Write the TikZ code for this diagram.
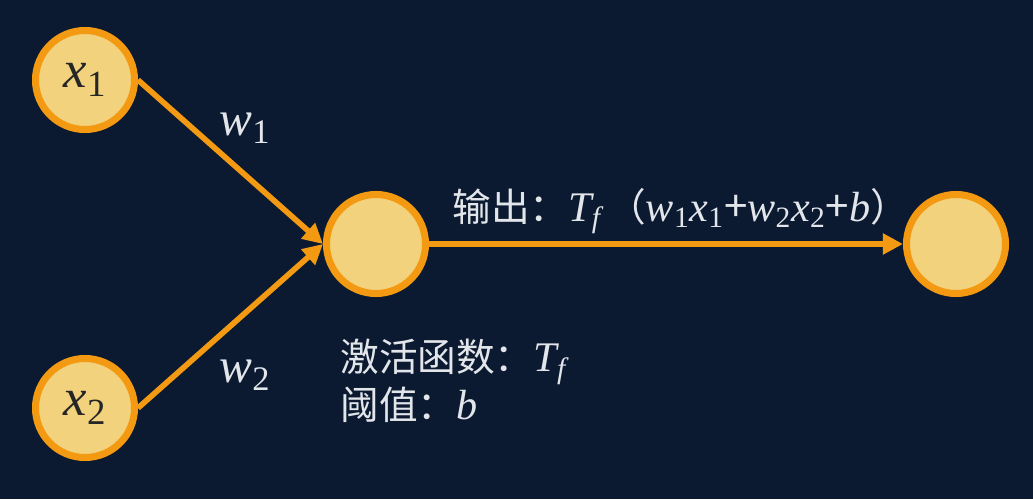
\documentclass[tikz,border=0pt]{standalone}
\usepackage{fontspec}
\usetikzlibrary{arrows.meta}
\newfontfamily\cjk{Noto Sans CJK SC}
\newfontfamily\tms{Liberation Serif}
\definecolor{bgnavy}{HTML}{0B1A30}
\definecolor{cellfill}{HTML}{F2D27C}
\definecolor{cellrim}{HTML}{F39A12}
\definecolor{labelgray}{HTML}{E2E5EA}
\newcommand{\mv}[1]{{\tms\itshape #1}}
\newcommand{\sbs}[1]{\textsubscript{\tms #1}}
\newcommand{\mathsz}[1]{{\fontsize{24}{24}\selectfont #1}}

\begin{document}
\begin{tikzpicture}[
    neuron/.style={circle, fill=cellfill, draw=cellrim, line width=4pt, minimum size=1.98cm, inner sep=0pt, text=black!85},
    link/.style={cellrim, line width=3.2pt, -{Triangle[length=0.4cm, width=0.4cm]}},
    lbl/.style={text=labelgray, inner sep=0pt}
]
    \fill[bgnavy] (0,0) rectangle (20.66,9.98);
    \useasboundingbox (0,0) rectangle (20.66,9.98);

    % neurons
    \node[neuron] (x1) at (1.70,8.38) {\fontsize{30}{30}\selectfont\raisebox{-4pt}{\mv{x}\sbs{1}}};
    \node[neuron] (x2) at (1.70,1.82) {\fontsize{30}{30}\selectfont\raisebox{-4pt}{\mv{x}\sbs{2}}};
    \node[neuron] (mid) at (7.52,5.10) {};
    \node[neuron] (out) at (19.12,5.10) {};

    % connections
    \draw[link] (x1.east) -- (mid.west);
    \draw[link] (x2.east) -- (mid.west);
    \draw[link] (mid.east) -- (out.west);

    % labels
    \node[lbl] (w1) at (4.90,7.42) {\fontsize{28}{28}\selectfont\mv{w}\sbs{1}};
    \node[lbl] (w2) at (4.90,2.48) {\fontsize{28}{28}\selectfont\mv{w}\sbs{2}};
    \node[lbl, anchor=west, font=\fontsize{22}{26}\selectfont] (outtxt) at (9.04,5.76)
        {\cjk 输出：\mathsz{\mv{T}\sbs{\itshape f}}\,（\mathsz{\mv{w}\sbs{1}\mv{x}\sbs{1}+\mv{w}\sbs{2}\mv{x}\sbs{2}+\mv{b}}）};
    \node[lbl, anchor=west, align=left, font=\fontsize{22}{27}\selectfont\cjk] (acttxt) at (6.80,2.36)
        {激活函数：\mathsz{\mv{T}\sbs{\itshape f}}\\ 阈值：\mathsz{\mv{b}}};
\end{tikzpicture}
\end{document}
